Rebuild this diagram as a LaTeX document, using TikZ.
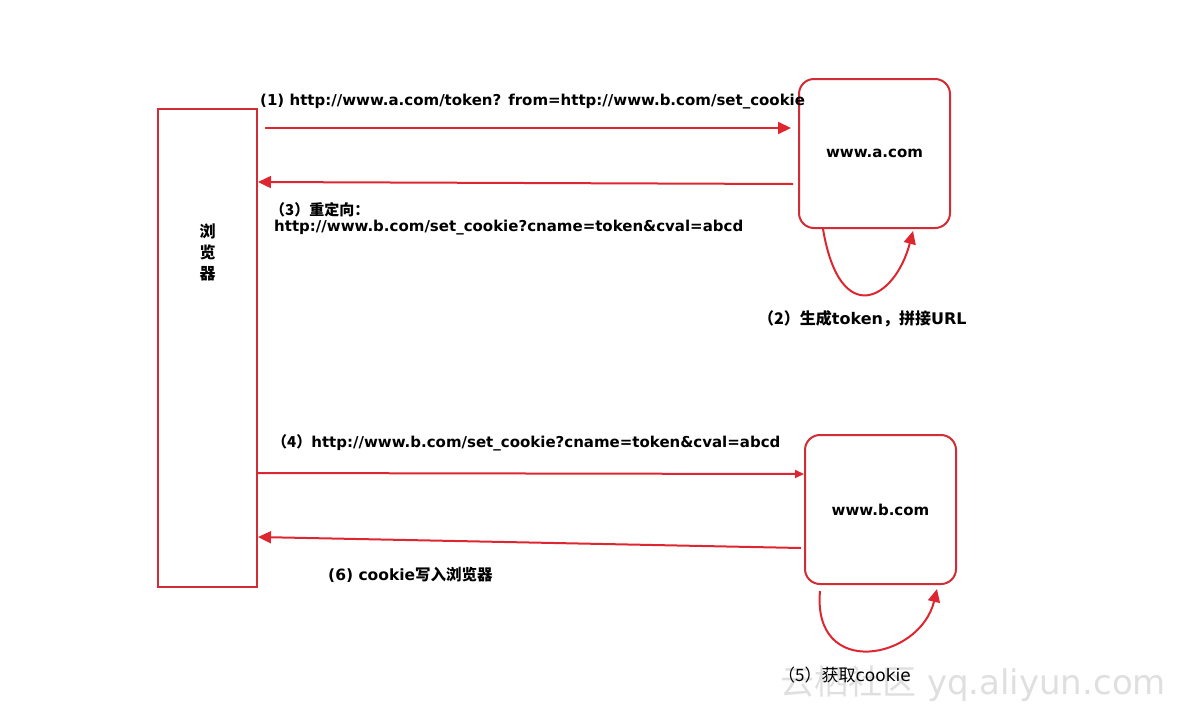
\documentclass[tikz,border=0pt]{standalone}
\usepackage{fontspec}
\setmainfont{DejaVu Sans}
\newfontfamily\cjk{Noto Sans CJK SC}
\usetikzlibrary{positioning,arrows.meta,calc}
\definecolor{lnk}{RGB}{222,38,48}
\definecolor{edg}{RGB}{210,45,55}

\begin{document}
\begin{tikzpicture}[x=1pt,y=-1pt,font=\bfseries\fontsize{15}{17}\selectfont,
  >={Triangle[length=13pt,width=12pt]},
  brws/.style={draw=edg,line width=2pt,minimum width=99pt,minimum height=478pt,inner sep=0pt},
  site/.style={draw=edg,line width=2pt,rounded corners=15pt,minimum width=151pt,minimum height=149pt,inner sep=0pt},
  msg/.style={draw=lnk,line width=2pt,->},
  txt/.style={anchor=west,inner sep=0pt}]
  \useasboundingbox (0,0) rectangle (1178,713);
  \node[txt,text=gray!25,font=\fontsize{34}{36}\selectfont] (wm) at (780,684) {{\cjk 云栖社区} yq.aliyun.com};
  \node[brws] (browser) at (207.5,348) {};
  \node[site] (siteA) at (874.5,153.5) {www.a.com};
  \node[site] (siteB) at (880.5,509.5) {www.b.com};
  \node[align=center,inner sep=0pt,font=\cjk\bfseries\fontsize{16}{21}\selectfont] (bname) at (207.5,252) {浏\\览\\器};
  % requests and replies
  \draw[msg] ($(browser.north east)+(7,20)$) -- ($(siteA.north west)+(-7,50)$);
  \draw[msg] ($(siteA.north west)+(-5,106)$) -- ($(browser.north east)+(0,74)$);
  \draw[msg] ($(siteA.south west)+(25,0)$) .. controls (840,330) and (895,300) .. ($(siteA.south east)+(-38,2)$);
  \draw[msg,>={Triangle[length=9pt,width=8pt]}] ($(browser.east)+(0,125)$) -- ($(siteB.west)+(0,-35.5)$);
  \draw[msg] ($(siteB.south west)+(16,6)$) .. controls (812,680) and (920,660) .. ($(siteB.south east)+(-20,4)$);
  \draw[msg] ($(siteB.west)+(-3,38.5)$) -- ($(browser.east)+(0,189)$);
  % labels
  \node[txt] (l1) at (260,102) {(1) http://www.a.com/token? from=http://www.b.com/set\_cookie};
  \node[txt] (l3a) at (270,210) {{\cjk（3）重定向：}};
  \node[txt] (l3b) at (274,228) {http://www.b.com/set\_cookie?cname=token\&cval=abcd};
  \node[txt,font=\bfseries\fontsize{16}{18}\selectfont] (l2) at (758,319) {{\cjk（2）生成}token{\cjk，拼接}URL};
  \node[txt] (l4) at (272,443) {{\cjk（4）}http://www.b.com/set\_cookie?cname=token\&cval=abcd};
  \node[txt,font=\bfseries\fontsize{15.5}{18}\selectfont] (l6) at (328,575) {(6) cookie{\cjk 写入浏览器}};
  \node[txt,font=\fontsize{17}{19}\selectfont] (l5) at (778,675) {{\cjk（5）获取}cookie};
\end{tikzpicture}
\end{document}
